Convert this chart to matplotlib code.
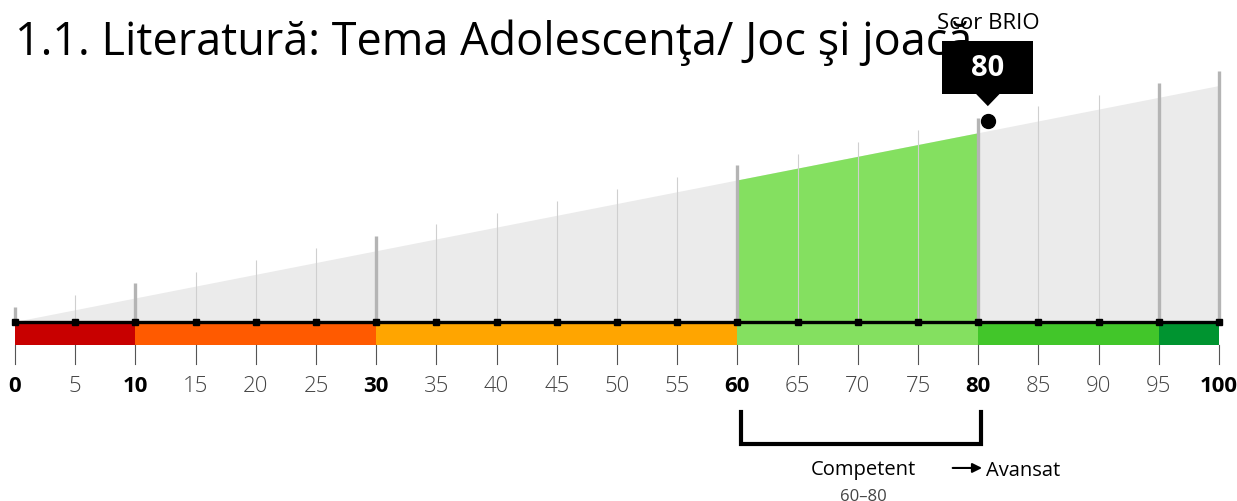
import matplotlib.pyplot as plt
from matplotlib.patches import Polygon, Rectangle

plt.rcParams['font.family'] = ['Open Sans', 'DejaVu Sans']

title = '1.1. Literatură: Tema Adolescenţa/ Joc şi joacă'
score = 80
score_label = 'Scor BRIO'
level_edges = [0, 10, 30, 60, 80, 95, 100]
level_colors = ['#c80000', '#ff5a00', '#ffa500', '#84e060', '#42c62a', '#009430']
bold_ticks = [0, 10, 30, 60, 80, 100]
ticks = list(range(0, 101, 5))
level_name = 'Competent'
level_range = '60–80'
next_level = 'Avansat'
lvl_lo, lvl_hi = 60, 80

fig = plt.figure(figsize=(12.37, 5.02), dpi=100)
ax = fig.add_axes([0, 0, 1, 1])
ax.set_xlim(-15 / 12.04, (1237 - 15) / 12.04)
ax.set_ylim(-75.8, 136.9)
ax.axis('off')

# grey wedge, and the achieved part in green
ax.add_patch(Polygon([(0, 0), (100, 100), (100, 0)], closed=True,
                     facecolor='#ebebeb', edgecolor='none', zorder=1))
ax.add_patch(Polygon([(lvl_lo, 0), (lvl_lo, lvl_lo), (score, score), (score, 0)],
                     closed=True, facecolor='#84e060', edgecolor='none', zorder=2))

# vertical guides
for t in ticks:
    thick = t in level_edges
    ax.plot([t, t], [0, t + 6.4], color='#b4b4b4' if thick else '#cfcfcf',
            lw=2.4 if thick else 0.8, zorder=3, solid_capstyle='butt')
    ax.plot([t, t], [-9.75, -17.8], color='#555555', lw=0.8, zorder=3)

# coloured level band
for lo, hi, c in zip(level_edges[:-1], level_edges[1:], level_colors):
    ax.add_patch(Rectangle((lo, -9.75), hi - lo, 9.75, facecolor=c,
                           edgecolor='none', zorder=2))

# axis line with square markers
ax.plot([0, 100], [0, 0], color='black', lw=2.4, zorder=4)
ax.plot(ticks, [0] * len(ticks), 's', color='black', ms=5, zorder=5)

for t in ticks:
    bold = t in bold_ticks
    ax.text(t, -26.7, str(t), ha='center', va='center', fontsize=16,
            fontweight='bold' if bold else 'light',
            color='black' if bold else '#444444')

# score marker and callout
sx = score + 0.8
ax.plot([sx], [85.2], 'o', color='black', ms=10, zorder=6)
ax.add_patch(Rectangle((sx - 3.78, 96.6), 7.56, 22.5, facecolor='black',
                       edgecolor='none', zorder=6))
ax.add_patch(Polygon([(sx - 1.0, 96.8), (sx + 1.0, 96.8), (sx, 91.5)],
                     closed=True, facecolor='black', edgecolor='none', zorder=6))
ax.text(sx, 107.8, str(score), ha='center', va='center', color='white',
        fontsize=21, fontweight='bold', zorder=7)
ax.text(sx, 126.8, score_label, ha='center', va='center', fontsize=16, zorder=7)

# level bracket
bx0, bx1 = lvl_lo + 0.33, lvl_hi + 0.25
ax.plot([bx0, bx0, bx1, bx1], [-38.1, -51.7, -51.7, -38.1], color='black',
        lw=3, solid_joinstyle='miter')
ax.text((bx0 + bx1) / 2 + 0.2, -62.3, level_name, ha='center', va='center', fontsize=14.5)
ax.text((bx0 + bx1) / 2 + 0.2, -73.5, level_range, ha='center', va='center',
        fontsize=12, color='#444444')
ax.annotate('', xy=(bx1 + 0.3, -61.8), xytext=(bx1 - 2.6, -61.8),
            arrowprops=dict(arrowstyle='-|>', color='black', lw=1.5, mutation_scale=14))
ax.text(bx1 + 0.4, -62.8, next_level, ha='left', va='center', fontsize=14.5)

fig.text(15 / 1237, 1 - 43 / 502, title, ha='left', va='center', fontsize=32.4)

fig.savefig('out.png', dpi=100)
